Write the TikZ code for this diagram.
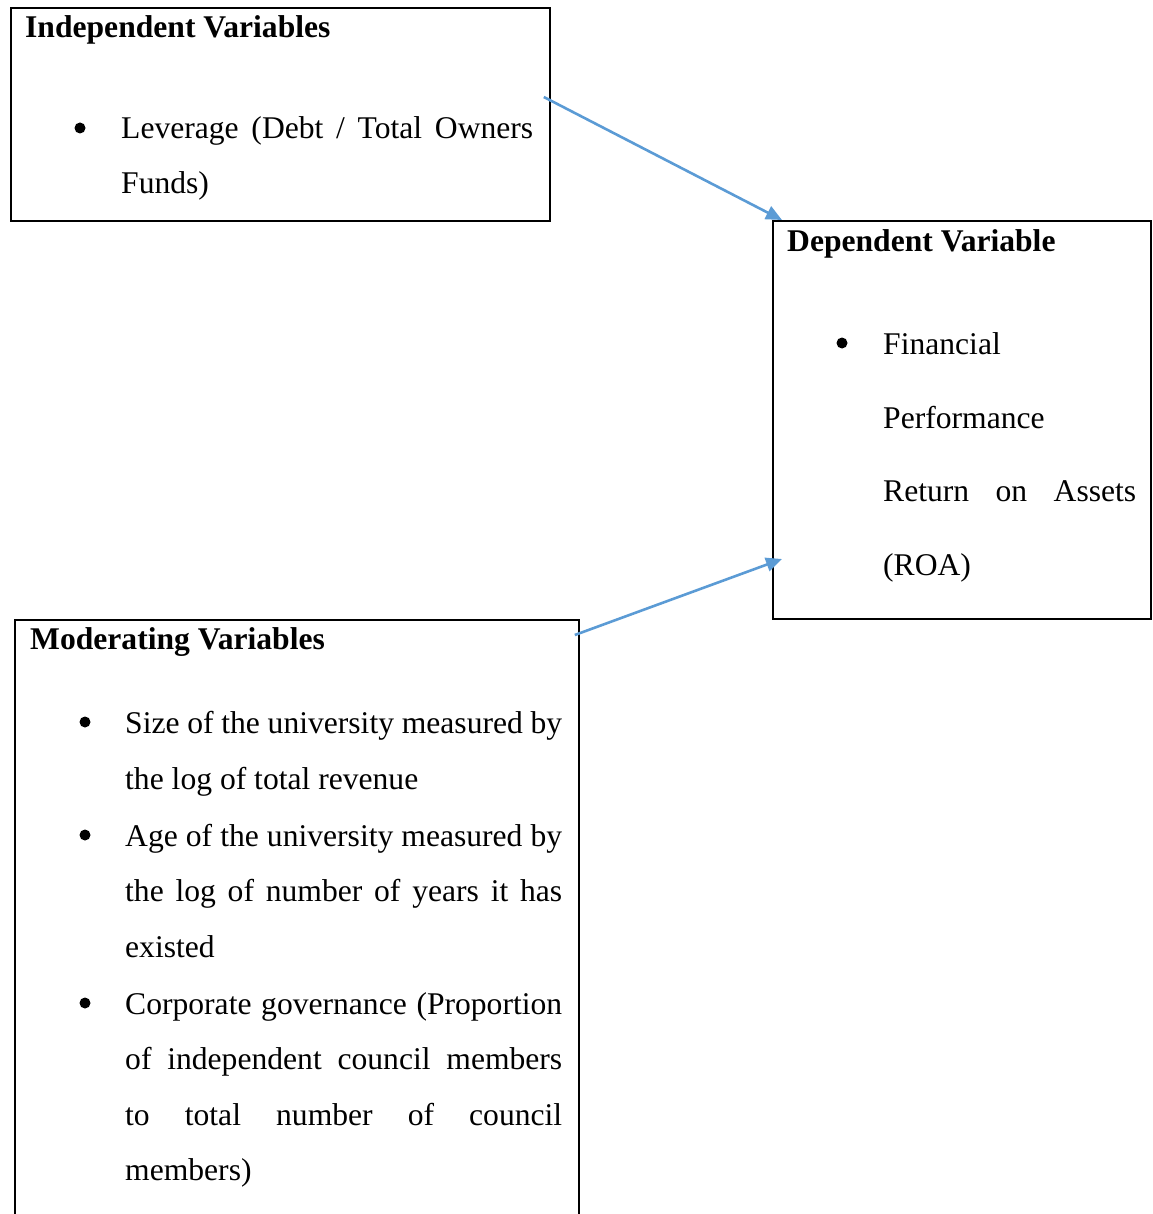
\documentclass[tikz,border=0pt]{standalone}
\usepackage{fontspec}
\setmainfont{Liberation Serif}
\usepackage{xcolor}
\usetikzlibrary{arrows.meta, calc}
\definecolor{arrowblue}{HTML}{5B9BD5}
\newcommand\bodyfont{\fontsize{31.6}{38}\selectfont}

\tikzset{
  box/.style={draw, line width=1.8pt, inner sep=0pt, anchor=north west},
  txt/.style={anchor=base west, inner sep=0pt, font=\bodyfont},
  ttl/.style={txt, font=\bodyfont\bfseries},
  dot/.style={circle, fill, inner sep=0pt, minimum size=11pt},
  link/.style={draw=arrowblue, line width=2.6pt, -{Triangle[length=16pt, width=14pt]}},
}

\begin{document}
\begin{tikzpicture}[x=1pt, y=-1pt]
  \useasboundingbox (0,0) rectangle (1152,1214);
  \clip (0,0) rectangle (1152,1214);
  \def\Wi{412pt} \def\Wd{253pt} \def\Wm{437pt}

  % boxes
  \node[box, minimum width=539pt, minimum height=213pt] (indep) at (10,7) {};
  \node[box, minimum width=378pt, minimum height=398pt] (dep) at (772,220) {};
  \node[box, minimum width=564pt, minimum height=640pt] (moder) at (14,619) {};

  % independent variables
  \node[ttl] (indepttl) at (25,38) {Independent Variables};
  \node[dot] (indepb) at (80,128) {};
  \node[txt] (indep1) at (121,139) {\makebox[\Wi][s]{Leverage (Debt / Total Owners}};
  \node[txt] (indep2) at (121,194) {Funds)};

  % dependent variable
  \node[ttl] (depttl) at (787,252) {Dependent Variable};
  \node[dot] (depb) at (842,343) {};
  \node[txt] (dep1) at (883,354) {Financial};
  \node[txt] (dep2) at (883,428) {Performance};
  \node[txt] (dep3) at (883,501) {\makebox[\Wd][s]{Return on Assets}};
  \node[txt] (dep4) at (883,575) {(ROA)};

  % moderating variables
  \node[ttl] (moderttl) at (30,649) {Moderating Variables};
  \node[dot] (moderb1) at (85,722) {};
  \node[txt] (size1) at (125,733) {\makebox[\Wm][s]{Size of the university measured by}};
  \node[txt] (size2) at (125,789) {the log of total revenue};
  \node[dot] (moderb2) at (85,835) {};
  \node[txt] (age1) at (125,846) {\makebox[\Wm][s]{Age of the university measured by}};
  \node[txt] (age2) at (125,901) {\makebox[\Wm][s]{the log of number of years it has}};
  \node[txt] (age3) at (125,957) {existed};
  \node[dot] (moderb3) at (85,1003) {};
  \node[txt] (gov1) at (125,1014) {\makebox[\Wm][s]{Corporate governance (Proportion}};
  \node[txt] (gov2) at (125,1069) {\makebox[\Wm][s]{of independent council members}};
  \node[txt] (gov3) at (125,1125) {\makebox[\Wm][s]{to total number of council}};
  \node[txt] (gov4) at (125,1180) {members)};

  % arrows
  \coordinate (a1s) at ($(indep.north east)+(-7,90)$);
  \coordinate (a1e) at ($(dep.north west)+(10,0)$);
  \coordinate (a2s) at ($(moder.north east)+(-5,16)$);
  \coordinate (a2e) at ($(dep.north west)+(10,339)$);
  \draw[link] (a1s) -- (a1e);
  \draw[link] (a2s) -- (a2e);
\end{tikzpicture}
\end{document}
